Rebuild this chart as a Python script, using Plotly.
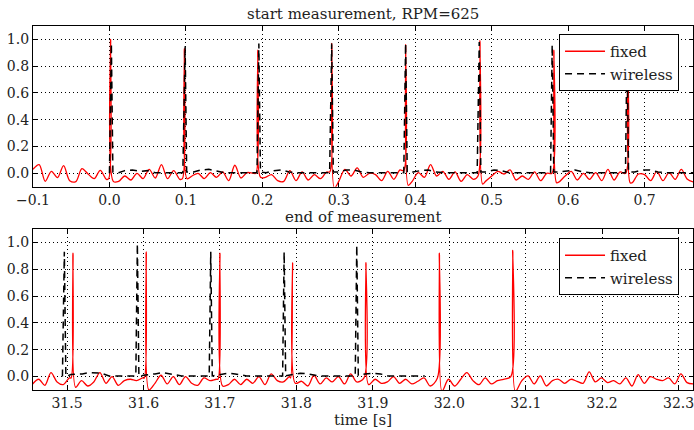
import plotly.graph_objects as go

# ---------------- data ----------------
# sampled baseline of the fixed sensor signal (step SAMPLE_STEP seconds)
SAMPLE_STEP = 0.008
start_t0 = -0.1
end_t0 = 31.455

fixed_base_start = [
    0.03, 0.065, -0.06, 0.015, -0.032, 0.058, -0.055, -0.062, 0.035, -0.005,
    -0.04, 0.022, -0.045, -0.05, -0.06, -0.02, -0.05, 0.0, -0.04, 0.03,
    -0.035, 0.065, -0.04, 0.02, -0.045, 0.0, -0.02, 0.0, -0.04, 0.005,
    -0.03, 0.01, -0.055, 0.06, -0.035, 0.005, 0.0, 0.0, -0.03, -0.01,
    -0.055, -0.06, 0.02, -0.055, 0.01, -0.05, -0.01, -0.04, 0.01, 0.0,
    -0.06, 0.03, -0.02, 0.04, -0.03, 0.0, -0.01, -0.055, 0.015, -0.045,
    0.025, 0.0, -0.06, 0.005, -0.03, 0.065, -0.02, 0.015, -0.045, 0.01,
    -0.06, -0.01, -0.045, 0.0, -0.06, -0.02, 0.015, -0.005, 0.025, -0.05,
    -0.02, -0.045, 0.01, -0.055, 0.0, 0.0, -0.065, -0.02, 0.015, -0.05,
    0.0, -0.045, 0.005, -0.055, 0.03, -0.05, 0.01, 0.0, -0.07, -0.005,
    -0.01, -0.055, 0.015, -0.055, 0.005, -0.045, 0.03, -0.045, -0.065,
]
fixed_base_end = [
    -0.055, -0.02, -0.065, 0.03, -0.04, -0.06, -0.01, 0.0, -0.03, -0.07,
    -0.04, 0.03, -0.05, 0.0, -0.065, -0.03, -0.02, -0.03, -0.01, 0.0,
    -0.05, 0.01, -0.055, 0.0, -0.06, 0.0, -0.05, -0.065, -0.01, -0.03,
    -0.02, 0.0, -0.06, -0.02, -0.06, -0.02, -0.05, 0.0, -0.06, 0.02,
    -0.03, -0.04, 0.0, 0.0, -0.035, -0.07, 0.01, -0.055, -0.01, -0.04,
    0.0, -0.055, 0.02, -0.04, 0.0, 0.0, -0.02, -0.05, -0.04, 0.0,
    -0.05, -0.02, -0.055, -0.035, -0.01, -0.07, 0.0, 0.0, -0.02, -0.07,
    -0.02, 0.03, -0.03, -0.06, -0.01, -0.055, -0.03, -0.02, 0.0, 0.0,
    -0.03, 0.005, -0.055, 0.005, -0.07, -0.03, -0.02, -0.05, -0.02, -0.035,
    -0.05, 0.035, -0.04, -0.01, -0.045, -0.03, -0.055, -0.01, -0.07, 0.015,
    -0.05, 0.0, -0.02, -0.03, -0.01, -0.055, 0.02, -0.045, -0.055,
]

# fixed sensor pulses: time, peak, level just before, undershoot just after
fixed_pulse_t_start = [0.0015, 0.098, 0.1941, 0.2907, 0.3874, 0.4846, 0.5813, 0.6776]
fixed_pulse_h_start = [1.0, 0.93, 0.92, 0.97, 0.96, 0.99, 0.92, 0.95]
fixed_pulse_pre_start = [-0.04, -0.04, 0.0, 0.01, 0.02, -0.02, 0.0, 0.0]
fixed_pulse_dip_start = [-0.06, -0.04, -0.03, -0.11, -0.09, -0.08, -0.07, -0.07]

fixed_pulse_t_end = [31.5078, 31.6036, 31.700, 31.795, 31.891, 31.987, 32.083]
fixed_pulse_h_end = [0.92, 0.93, 0.92, 0.85, 0.85, 0.92, 0.94]
fixed_pulse_pre_end = [-0.01, -0.01, -0.02, -0.01, -0.01, -0.01, 0.0]
fixed_pulse_dip_end = [-0.08, -0.10, -0.07, -0.05, -0.06, -0.11, -0.11]

# wireless sensor trace
wireless_t_start = [
    0.0, 0.0025, 0.0045, 0.012, 0.02, 0.03, 0.04, 0.05, 0.06, 0.096,
    0.099, 0.101, 0.11, 0.12, 0.13, 0.14, 0.15, 0.193,
    0.1954, 0.1975, 0.205, 0.215, 0.225, 0.235, 0.245, 0.288,
    0.2907, 0.2928, 0.30, 0.31, 0.32, 0.33, 0.34, 0.385,
    0.3874, 0.3895, 0.397, 0.407, 0.417, 0.427, 0.437, 0.481,
    0.4837, 0.4858, 0.493, 0.503, 0.513, 0.523, 0.577,
    0.5791, 0.5812, 0.589, 0.599, 0.609, 0.619, 0.629, 0.675,
    0.677, 0.679, 0.687, 0.697, 0.707, 0.717, 0.727, 0.764,
]
wireless_v_start = [
    0.0, 0.97, 0.01, 0.005, 0.02, 0.025, 0.015, 0.02, 0.005, 0.005,
    0.95, 0.01, 0.01, 0.025, 0.03, 0.02, 0.005, 0.005,
    0.97, 0.01, 0.005, 0.02, 0.025, 0.01, 0.005, 0.005,
    0.97, 0.01, 0.01, 0.025, 0.025, 0.01, 0.005, 0.005,
    0.97, 0.01, 0.01, 0.02, 0.025, 0.01, 0.005, 0.005,
    0.98, 0.01, 0.01, 0.025, 0.02, 0.005, 0.005,
    0.96, 0.01, 0.01, 0.02, 0.025, 0.01, 0.005, 0.005,
    0.97, 0.01, 0.01, 0.025, 0.025, 0.01, 0.005, 0.005,
]
wireless_t_end = [
    31.494, 31.4965, 31.4985, 31.505, 31.52, 31.53, 31.545, 31.555, 31.59,
    31.592, 31.594, 31.60, 31.615, 31.625, 31.64, 31.65, 31.686,
    31.688, 31.690, 31.70, 31.71, 31.72, 31.735, 31.782,
    31.784, 31.786, 31.795, 31.805, 31.815, 31.83, 31.877,
    31.879, 31.881, 31.89, 31.90, 31.91, 31.92, 31.968,
]
wireless_v_end = [
    0.0, 0.93, 0.0, 0.015, 0.02, 0.03, 0.025, 0.005, 0.005,
    0.99, 0.0, 0.01, 0.02, 0.03, 0.015, 0.005, 0.005,
    0.93, 0.005, 0.015, 0.025, 0.02, 0.005, 0.005,
    0.93, 0.005, 0.015, 0.025, 0.02, 0.005, 0.005,
    0.98, 0.01, 0.02, 0.025, 0.02, 0.005, 0.005,
]

x_range_start = [-0.1, 0.7633]
x_range_end = [31.4555, 32.3188]
x_ticks_start = [-0.1, 0.0, 0.1, 0.2, 0.3, 0.4, 0.5, 0.6, 0.7]
x_ticks_end = [31.5, 31.6, 31.7, 31.8, 31.9, 32.0, 32.1, 32.2, 32.3]
y_ticks = [0.0, 0.2, 0.4, 0.6, 0.8, 1.0]


def merge_fixed(t0, base, p_t, p_h, p_pre, p_dip):
    """Combine the sampled baseline with the pulse vertices."""
    pts = []
    for i, v in enumerate(base):
        t = t0 + i * SAMPLE_STEP
        if any(tp - 0.004 <= t <= tp + 0.006 for tp in p_t):
            continue
        pts.append((t, v))
    for tp, h, pre, dip in zip(p_t, p_h, p_pre, p_dip):
        pts += [(tp - 0.0025, pre), (tp, h), (tp + 0.0035, dip)]
    pts.sort()
    return [p[0] for p in pts], [p[1] for p in pts]


fx_s, fy_s = merge_fixed(start_t0, fixed_base_start, fixed_pulse_t_start,
                         fixed_pulse_h_start, fixed_pulse_pre_start, fixed_pulse_dip_start)
fx_e, fy_e = merge_fixed(end_t0, fixed_base_end, fixed_pulse_t_end,
                         fixed_pulse_h_end, fixed_pulse_pre_end, fixed_pulse_dip_end)

SERIF = "DejaVu Serif"
RED = "#ff0000"
TEXT = "#222"

fig = go.Figure()

fixed_line = dict(color=RED, width=1.3, shape="spline", smoothing=0.9)
wireless_line = dict(color="black", width=1.5, dash="7px,5px")

fig.add_trace(go.Scatter(x=fx_s, y=fy_s, mode="lines", name="fixed",
                         line=fixed_line, xaxis="x", yaxis="y", legend="legend"))
fig.add_trace(go.Scatter(x=wireless_t_start, y=wireless_v_start, mode="lines",
                         name="wireless", line=wireless_line,
                         xaxis="x", yaxis="y", legend="legend"))
fig.add_trace(go.Scatter(x=fx_e, y=fy_e, mode="lines", name="fixed",
                         line=fixed_line, xaxis="x2", yaxis="y2", legend="legend2"))
fig.add_trace(go.Scatter(x=wireless_t_end, y=wireless_v_end, mode="lines",
                         name="wireless", line=wireless_line,
                         xaxis="x2", yaxis="y2", legend="legend2"))

axis_common = dict(
    showline=True, linecolor="black", linewidth=1.3, mirror="ticks",
    ticks="inside", ticklen=4, tickcolor="black", tickwidth=1,
    showgrid=True, gridcolor="black", gridwidth=1, griddash="1px,3px",
    zeroline=False, tickfont=dict(family=SERIF, size=14, color=TEXT),
    ticklabeloverflow="allow",
)


# pixel row -> paper y (paper 0 at 390px, 1 at 26px)
def paper_y(px):
    return (390 - px) / 364


legend_common = dict(xanchor="left", yanchor="top", bgcolor="white",
                     bordercolor="black", borderwidth=1,
                     font=dict(family=SERIF, size=15, color=TEXT),
                     itemwidth=40, tracegroupgap=0)

fig.update_layout(
    width=694, height=430,
    margin=dict(l=33, r=1, t=26, b=40),
    paper_bgcolor="white", plot_bgcolor="white",
    showlegend=True,
    xaxis=dict(axis_common, domain=[0, 1], anchor="y", range=x_range_start,
               tickvals=x_ticks_start, tickformat=".1f"),
    yaxis=dict(axis_common, domain=[paper_y(186.7), 1.0], anchor="x",
               range=[-0.1, 1.1], tickvals=y_ticks, tickformat=".1f"),
    xaxis2=dict(axis_common, domain=[0, 1], anchor="y2", range=x_range_end,
                tickvals=x_ticks_end, tickformat=".1f",
                title=dict(text="time [s]", standoff=3,
                           font=dict(family=SERIF, size=15, color=TEXT))),
    yaxis2=dict(axis_common, domain=[0, paper_y(229)], anchor="x2",
                range=[-0.1, 1.1], tickvals=y_ticks, tickformat=".1f"),
    legend=dict(legend_common, x=0.797, y=paper_y(34)),
    legend2=dict(legend_common, x=0.797, y=paper_y(238)),
    annotations=[
        dict(text="start measurement, RPM=625", x=0.5, y=paper_y(14),
             xref="paper", yref="paper", yanchor="middle", showarrow=False,
             font=dict(family=SERIF, size=15, color=TEXT)),
        dict(text="end of measurement", x=0.5, y=paper_y(217),
             xref="paper", yref="paper", yanchor="middle", showarrow=False,
             font=dict(family=SERIF, size=15, color=TEXT)),
    ],
)

fig.write_html("out.html")
